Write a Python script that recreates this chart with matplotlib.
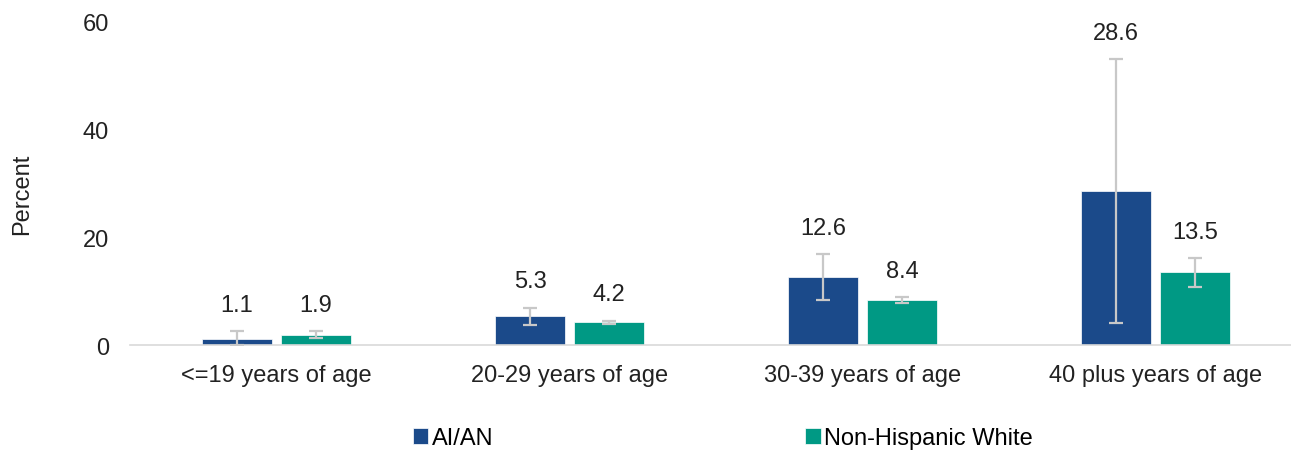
import numpy as np
import matplotlib
matplotlib.use('Agg')
import matplotlib.pyplot as plt

plt.rcParams['font.family'] = ['Liberation Sans', 'DejaVu Sans']

# 数据
categories = ['<=19 years of age', '20-29 years of age', '30-39 years of age', '40 plus years of age']
aian = [1.1, 5.3, 12.6, 28.6]
aian_low = [0.0, 3.7, 8.4, 4.0]
aian_high = [2.6, 6.9, 16.9, 53.0]
nhw = [1.9, 4.2, 8.4, 13.5]
nhw_low = [1.3, 3.9, 7.8, 10.8]
nhw_high = [2.6, 4.5, 8.9, 16.1]
yticks = [0, 20, 40, 60]

c_aian = '#1B4A8A'
c_nhw = '#009984'
c_err = '#C8C8C8'
fs = 17

fig = plt.figure(figsize=(12.91, 4.52), dpi=100)
ax = fig.add_axes([0.1007, 0.2345, 0.908, 0.7165])

x = np.arange(len(categories))
w = 0.24
off = 0.135


def draw_series(xpos, vals, lo, hi, color, label):
    vals = np.array(vals)
    yerr = [vals - np.array(lo), np.array(hi) - vals]
    ax.bar(xpos, vals, width=w, color=color, label=label, zorder=2,
           edgecolor='white', linewidth=0.5)
    ax.errorbar(xpos, vals, yerr=yerr, fmt='none', ecolor=c_err,
                elinewidth=1.6, capsize=5, capthick=1.6, zorder=3)
    # 数值标签放在误差线上方
    for xi, v, h in zip(xpos, vals, hi):
        ax.annotate('%.1f' % v, (xi, max(v, h)), xytext=(0, 11),
                    textcoords='offset points', ha='center', va='bottom',
                    fontsize=fs, color='#222222', annotation_clip=False)


draw_series(x - off, aian, aian_low, aian_high, c_aian, 'AI/AN')
draw_series(x + off, nhw, nhw_low, nhw_high, c_nhw, 'Non-Hispanic White')

ax.set_xlim(-0.5, 3.5)
ax.set_ylim(0, 60)
ax.set_yticks(yticks)
ax.set_xticks(x)
ax.set_xticklabels(categories)
ax.tick_params(axis='both', length=0, labelsize=fs, colors='#222222')
ax.tick_params(axis='y', pad=15)
ax.tick_params(axis='x', pad=14)
for s in ['top', 'right', 'left']:
    ax.spines[s].set_visible(False)
ax.spines['bottom'].set_color('#D9D9D9')
ax.spines['bottom'].set_linewidth(1.2)

fig.text(0.017, 0.569, 'Percent', rotation=90, ha='center', va='center',
         fontsize=fs, color='#222222')

leg = fig.legend(loc='center', bbox_to_anchor=(0.56, 0.028), ncol=2,
                 frameon=False, fontsize=fs, handlelength=0.65,
                 handleheight=0.65, handletextpad=0.15, columnspacing=13.2)

fig.savefig('out.png', dpi=100)
